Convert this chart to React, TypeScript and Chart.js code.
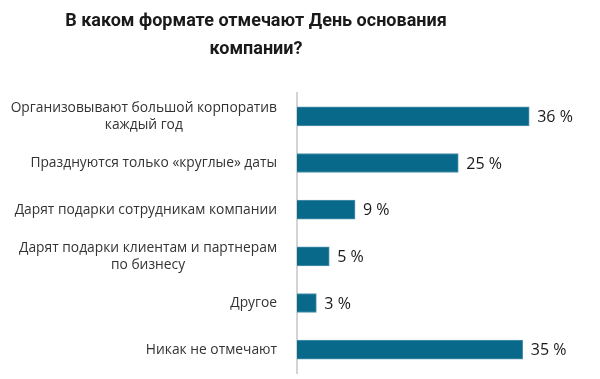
import React, { useEffect, useRef } from "react";
import { Chart, registerables } from "chart.js";

Chart.register(...registerables);

const titleLines = ["В каком формате отмечают День основания", "компании?"];
const categories: string[][] = [
  ["Организовывают большой корпоратив", "каждый год"],
  ["Празднуются только «круглые» даты"],
  ["Дарят подарки сотрудникам компании"],
  ["Дарят подарки клиентам и партнерам", "по бизнесу"],
  ["Другое"],
  ["Никак не отмечают"],
];
const values = [36, 25, 9, 5, 3, 35];
const valueSuffix = " %";

const FONT = "'Open Sans', 'Noto Sans', sans-serif";
const TITLE_FONT = "Roboto, 'Open Sans', sans-serif";

const drawPlugin = {
  id: "customText",
  afterDraw(chart: any) {
    const ctx = chart.ctx;
    const yScale = chart.scales.y;
    ctx.save();
    // title
    ctx.fillStyle = "#1a1a1a";
    ctx.font = `bold 18px ${TITLE_FONT}`;
    ctx.textAlign = "center";
    ctx.textBaseline = "middle";
    titleLines.forEach((t, i) => ctx.fillText(t, 256, 21 + i * 28));

    // category labels: right-aligned blocks, lines centered within block
    ctx.font = `13.8px ${FONT}`;
    ctx.fillStyle = "#333333";
    const rightX = 277;
    const lineH = 17;
    categories.forEach((lines, i) => {
      const cy = yScale.getPixelForTick(i);
      const widest = Math.max(...lines.map((l) => ctx.measureText(l).width));
      const cx = rightX - widest / 2;
      lines.forEach((l, j) => {
        ctx.fillText(l, cx, (lines.length > 1 ? cy - 8 : cy) + j * lineH);
      });
    });

    // value labels
    ctx.font = `16px ${FONT}`;
    ctx.fillStyle = "#1a1a1a";
    ctx.textAlign = "left";
    const meta = chart.getDatasetMeta(0);
    meta.data.forEach((bar: any, i: number) => {
      ctx.fillText(values[i] + valueSuffix, bar.x + 8, bar.y + 1);
    });
    ctx.restore();
  },
};

export default function App() {
  const ref = useRef<HTMLCanvasElement | null>(null);
  useEffect(() => {
    if (!ref.current) return;
    const chart = new Chart(ref.current, {
      type: "bar",
      data: {
        labels: categories.map((c) => c.join(" ")),
        datasets: [
          {
            data: values,
            backgroundColor: "#08698a",
            borderColor: "#4f93aa",
            borderWidth: { top: 1, bottom: 1, left: 0, right: 1 } as any,
            borderSkipped: "start",
            barThickness: 19,
          },
        ],
      },
      options: {
        indexAxis: "y",
        animation: false,
        responsive: false,
        maintainAspectRatio: false,
        layout: { padding: { left: 0, right: 45, top: 93, bottom: 6 } },
        plugins: { legend: { display: false }, tooltip: { enabled: false }, title: { display: false } },
        scales: {
          x: { display: false, min: 0, max: 40 },
          y: {
            ticks: { display: false },
            grid: { display: false, drawTicks: false },
            border: { display: true, color: "#d4d4d4", width: 2 },
            afterFit: (s: any) => {
              s.width = 297;
            },
          },
        },
      },
      plugins: [drawPlugin],
    });
    return () => chart.destroy();
  }, []);
  return (
    <div style={{ position: "fixed", left: 0, top: 0, width: 600, height: 379, background: "#fff" }}>
      <canvas ref={ref} width={600} height={379} style={{ width: 600, height: 379, display: "block" }} />
    </div>
  );
}
